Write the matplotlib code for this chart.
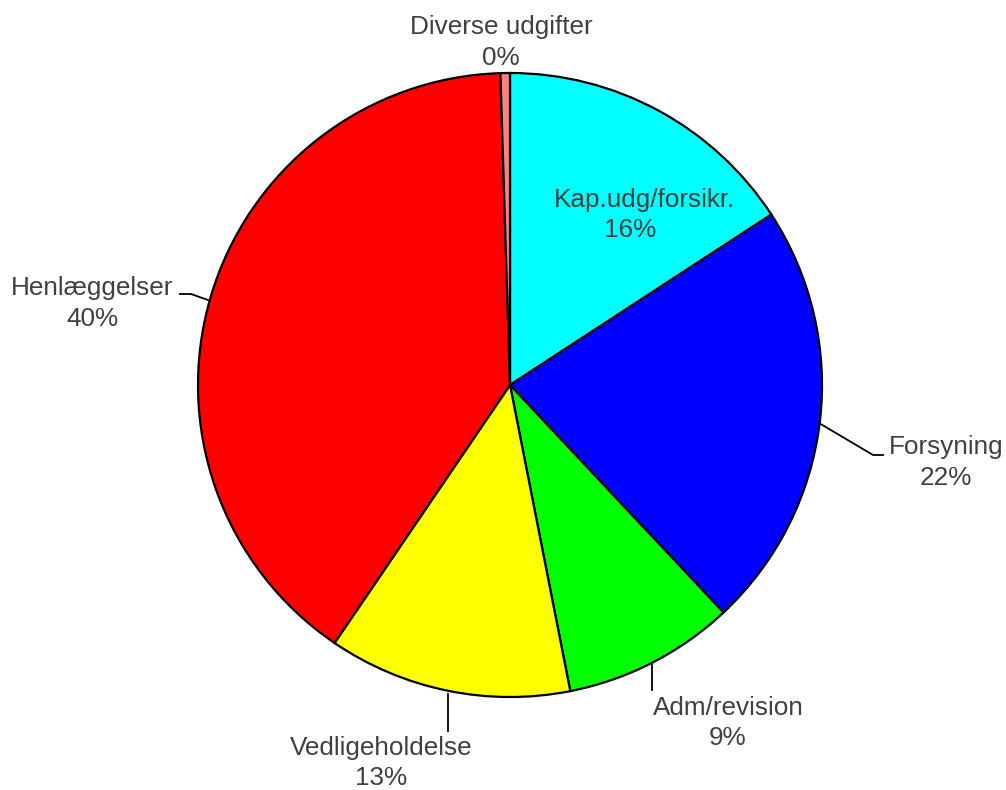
import matplotlib.pyplot as plt

# data
labels = ['Kap.udg/forsikr.', 'Forsyning', 'Adm/revision', 'Vedligeholdelse',
          'Henlæggelser', 'Diverse udgifter']
values = [15.8, 22.2, 8.9, 12.6, 40.0, 0.49]
colors = ['#00FFFF', '#0000FF', '#00FF00', '#FFFF00', '#FF0000', '#FF8080']

W, H = 1006, 790
fig = plt.figure(figsize=(W / 100, H / 100), dpi=100)
ax = fig.add_axes([0, 0, 1, 1])

cx, cy, r = 510, H - 385, 312
ax.pie(values, colors=colors, startangle=90, counterclock=False,
       center=(cx, cy), radius=r, frame=True,
       wedgeprops=dict(edgecolor='black', linewidth=1.6))
ax.set_xlim(0, W)
ax.set_ylim(0, H)
ax.set_aspect('auto')
ax.axis('off')

total = sum(values)
pcts = ['%.0f%%' % (v / total * 100) for v in values]

txt = dict(fontsize=18.8, color='#404040', ha='center', va='center',
           family='Liberation Sans')

# label positions in pixel coords (top-left origin)
pos = [(645, 200, 630, 230),
       (946, 447, 946, 478),
       (728, 708, 728, 738),
       (381, 748, 381, 778),
       (92, 288, 92, 319),
       (501, 27, 501, 58)]
for lab, p, (x1, y1, x2, y2) in zip(labels, pcts, pos):
    ax.text(x1, H - y1, lab, **txt)
    ax.text(x2, H - y2, p, **txt)

# leader lines
lines = [([819, 873, 883], [423, 455, 455]),
         ([652, 652], [663, 690]),
         ([448, 448], [694, 731]),
         ([180, 191, 208], [294, 294, 300])]
for xs, ys in lines:
    ax.plot(xs, [H - y for y in ys], color='black', lw=1.3)

fig.savefig('out.png', dpi=100)
